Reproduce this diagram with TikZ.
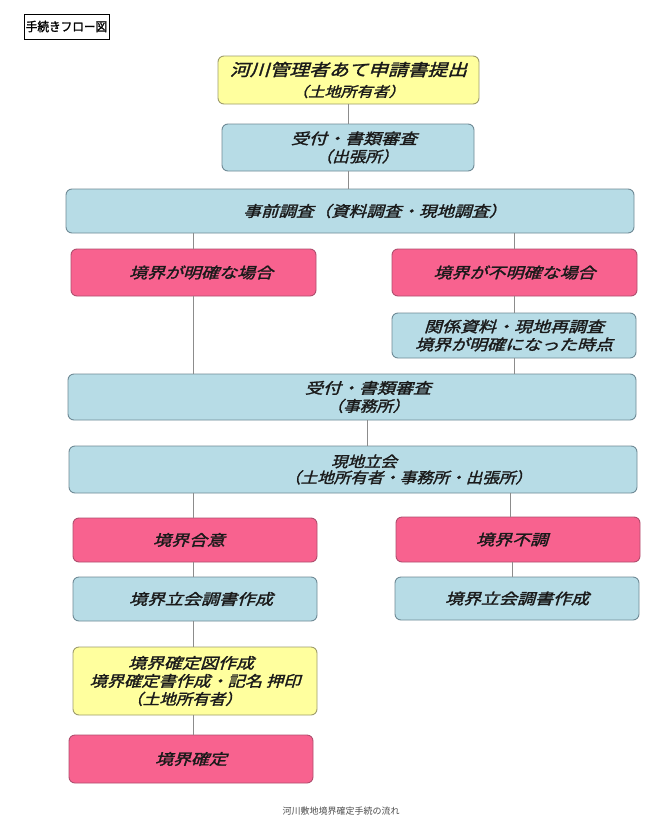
\documentclass[tikz,border=0pt]{standalone}
\usepackage{fontspec}
\usepackage{graphicx}
\newfontfamily\jp[FakeSlant=0.25,FakeBold=1.6]{Noto Sans CJK JP}
\newfontfamily\jpup[FakeBold=1.5]{Noto Sans CJK JP}
\newfontfamily\jpreg{Noto Sans CJK JP}
\newcommand\jl[2][1.2]{\scalebox{#1}[1]{\jp #2}}
\newcommand\jls[3]{\scalebox{#2}[1]{\fontsize{#1}{#1}\selectfont\jp #3}}
\definecolor{yfill}{HTML}{FFFF9E}
\definecolor{yline}{HTML}{9E9C6C}
\definecolor{pfill}{HTML}{F8628F}
\definecolor{pline}{HTML}{B04E6E}
\definecolor{bfill}{HTML}{B7DCE6}
\definecolor{bline}{HTML}{6F8A96}
\definecolor{lineg}{HTML}{8C8C8C}
\definecolor{txt}{HTML}{1A1A1A}
\begin{document}
\begin{tikzpicture}[x=1pt,y=-1pt,
  box/.style={draw, rounded corners=6pt, line width=0.9pt, inner sep=0pt,
    align=center, text=txt, font=\fontsize{15}{18}\selectfont},
  ybox/.style={box, fill=yfill, draw=yline},
  pbox/.style={box, fill=pfill, draw=pline},
  bbox/.style={box, fill=bfill, draw=bline},
  conn/.style={draw=lineg, line width=0.9pt}]
\useasboundingbox (0,0) rectangle (650,827);
\fill[white] (0,0) rectangle (650,827);

\node[draw=black, line width=0.8pt, fill=white, minimum width=85pt,
  minimum height=25pt, inner sep=1pt,
  font=\jpup\fontsize{12.5}{13}\selectfont] (title) at (66.5,26.5) {\scalebox{0.93}[1]{手続きフロー図}};

\node[ybox, minimum width=261pt, minimum height=48pt] (b1) at (348.5,80)
  {\jls{16.5}{1.2}{河川管理者あて申請書提出}\\[3pt]\jls{14}{1.15}{（土地所有者）}};
\node[bbox, minimum width=252pt, minimum height=47pt] (b2) at (348,147.5)
  {\hspace*{12pt}\jl{受付・書類審査}\\\hspace*{18pt}\jl[1.1]{（出張所）}};
\node[bbox, minimum width=568pt, minimum height=44pt] (b3) at (350,211)
  {\hspace*{50pt}\jl[1.17]{事前調査（資料調査・現地調査）}};
\node[pbox, minimum width=245pt, minimum height=47pt] (p1) at (193.5,272.5)
  {\hspace*{15pt}\jl{境界が明確な場合}};
\node[pbox, minimum width=245pt, minimum height=47pt] (p2) at (514.5,272.5)
  {\jl{境界が不明確な場合}};
\node[bbox, minimum width=244pt, minimum height=45pt] (b5) at (514,335.5)
  {\jl{関係資料・現地再調査}\\\jl{境界が明確になった時点}};
\node[bbox, minimum width=568pt, minimum height=46pt] (b6) at (352,397)
  {\hspace*{32pt}\jl{受付・書類審査}\\\hspace*{32pt}\jl[1.1]{（事務所）}};
\node[bbox, minimum width=568pt, minimum height=47pt] (b7) at (353,469.5)
  {\hspace*{22pt}\jl[1.1]{現地立会}\\[-2pt]\hspace*{110pt}\jl[1.1]{（土地所有者・事務所・出張所）}};
\node[pbox, minimum width=244pt, minimum height=44pt] (p3) at (195,540)
  {\jl{境界合意}\hspace*{12pt}};
\node[pbox, minimum width=244pt, minimum height=45pt] (p4) at (518,539.5)
  {\jl{境界不調}\hspace*{12pt}};
\node[bbox, minimum width=244pt, minimum height=44pt] (b8) at (195,599)
  {\hspace*{12pt}\jl{境界立会調書作成}};
\node[bbox, minimum width=244pt, minimum height=43pt] (b9) at (517,598.5)
  {\jl{境界立会調書作成}};
\node[ybox, minimum width=244pt, minimum height=68pt] (y2) at (195,681)
  {\jl{境界確定図作成}\hspace*{8pt}\\\jl[1.15]{境界確定書作成・記名 押印}\hspace*{8pt}\\\jl[1.1]{（土地所有者）}\hspace*{22pt}};
\node[pbox, minimum width=244pt, minimum height=48pt] (p5) at (191,759)
  {\jl{境界確定}};

\node[font=\jpreg\fontsize{9}{10}\selectfont, text=black!70] (cap) at (341,811)
  {河川敷地境界確定手続の流れ};

\coordinate (kl) at (193,0);
\coordinate (kr) at (514,0);
\coordinate (k67) at (367,0);
\coordinate (k7r) at (510,0);
\coordinate (k9) at (512,0);
\draw[conn] (b1.south) -- (b1.south |- b2.north);
\draw[conn] (b2.south) -- (b2.south |- b3.north);
\draw[conn] (b3.south -| kl) -- (p1.north -| kl);
\draw[conn] (b3.south -| kr) -- (p2.north -| kr);
\draw[conn] (p1.south -| kl) -- (b6.north -| kl);
\draw[conn] (p2.south -| kr) -- (b5.north -| kr);
\draw[conn] (b5.south -| kr) -- (b6.north -| kr);
\draw[conn] (b6.south -| k67) -- (b7.north -| k67);
\draw[conn] (b7.south -| kl) -- (p3.north -| kl);
\draw[conn] (b7.south -| k7r) -- (p4.north -| k7r);
\draw[conn] (p3.south -| kl) -- (b8.north -| kl);
\draw[conn] (p4.south -| k9) -- (b9.north -| k9);
\draw[conn] (b8.south -| kl) -- (y2.north -| kl);
\draw[conn] (y2.south -| kl) -- (p5.north -| kl);
\end{tikzpicture}
\end{document}
